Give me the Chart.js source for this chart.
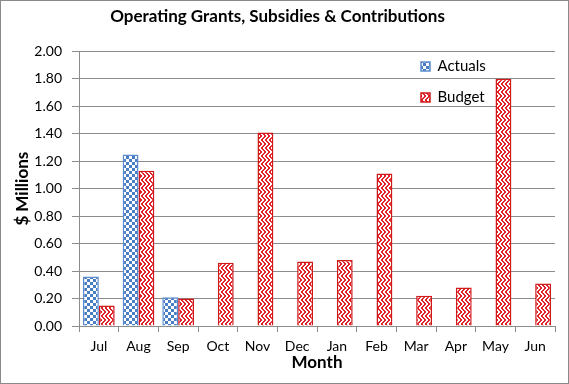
<!DOCTYPE html>
<html>
<head>
<meta charset="utf-8">
<script src="https://cdn.jsdelivr.net/npm/chart.js@4/dist/chart.umd.min.js"></script>
<style>
  body { margin: 0; background: #fff; }
  #wrap { position: relative; width: 569px; height: 384px; }
  #frame { position: absolute; left: 0; top: 0; width: 569px; height: 384px;
           box-sizing: border-box; border: 1px solid #8a8a8a; pointer-events: none; }
</style>
</head>
<body>
<div id="wrap">
  <canvas id="grantsChart" width="569" height="384"></canvas>
  <div id="frame"></div>
</div>
<script>
// Operating grants chart - monthly actuals vs budget ($ millions)

const months  = ['Jul','Aug','Sep','Oct','Nov','Dec','Jan','Feb','Mar','Apr','May','Jun'];
const actuals = [0.36, 1.25, 0.21, null, null, null, null, null, null, null, null, null];
const budget  = [0.15, 1.13, 0.20, 0.46, 1.41, 0.47, 0.48, 1.11, 0.22, 0.28, 1.80, 0.31];
const yTicks  = ['0.00','0.20','0.40','0.60','0.80','1.00','1.20','1.40','1.60','1.80','2.00'];

const FONT = 'Lato, "Open Sans", sans-serif';
const GRID = '#8c8c8c';

// small fill patterns like the Excel hatch fills
function checkerPattern(color) {
  const c = document.createElement('canvas');
  c.width = 6; c.height = 6;
  const g = c.getContext('2d');
  g.fillStyle = '#fff';
  g.fillRect(0, 0, 6, 6);
  g.fillStyle = color;
  g.fillRect(0, 0, 3, 3);
  g.fillRect(3, 3, 3, 3);
  return g.createPattern(c, 'repeat');
}

function zigzagPattern(color) {
  const c = document.createElement('canvas');
  c.width = 8; c.height = 8;
  const g = c.getContext('2d');
  g.fillStyle = '#fff';
  g.fillRect(0, 0, 8, 8);
  g.fillStyle = color;
  for (let y = 0; y < 8; y++) {
    const s = y < 4 ? y : 7 - y;
    for (let x = 0; x < 8; x++) {
      if ((x + s) % 4 < 2) g.fillRect(x, y, 1, 1);
    }
  }
  return g.createPattern(c, 'repeat');
}

// move the in-plot legend over to the right-hand side
const legendSpot = {
  id: 'legendSpot',
  afterLayout(chart) {
    const lg = chart.legend;
    if (!lg) return;
    lg.left = 405;
    lg.top = 43;
  }
};

const ctx = document.getElementById('grantsChart').getContext('2d');
new Chart(ctx, {
  type: 'bar',
  data: {
    labels: months,
    datasets: [
      {
        label: 'Actuals',
        data: actuals,
        backgroundColor: checkerPattern('#4a7ec4'),
        borderColor: '#5b8cd2',
        borderWidth: 1.5
      },
      {
        label: 'Budget',
        data: budget,
        backgroundColor: zigzagPattern('#e0242b'),
        borderColor: '#d01a1a',
        borderWidth: 1.5
      }
    ]
  },
  options: {
    responsive: false,
    animation: false,
    layout: { padding: { left: 0, right: 14, top: 0, bottom: 0 } },
    datasets: { bar: { categoryPercentage: 0.8, barPercentage: 1.0 } },
    plugins: {
      title: {
        display: true,
        text: 'Operating Grants, Subsidies & Contributions',
        color: '#000',
        font: { family: FONT, size: 17, weight: 'bold' },
        padding: { top: 6, bottom: 25 }
      },
      legend: {
        position: 'chartArea',
        align: 'start',
        labels: {
          color: '#000',
          font: { family: FONT, size: 15 },
          boxWidth: 9,
          boxHeight: 9,
          padding: 16
        }
      },
      tooltip: { enabled: false }
    },
    scales: {
      x: {
        grid: { drawOnChartArea: false, color: GRID, tickLength: 6, offset: true },
        border: { color: GRID },
        ticks: { color: '#000', font: { family: FONT, size: 14 }, padding: 6, maxRotation: 0 },
        title: {
          display: true, text: 'Month', color: '#000',
          font: { family: FONT, size: 17, weight: 'bold' },
          padding: { top: 0, bottom: 11 }
        },
        afterFit(scale) { scale.height = 58; }
      },
      y: {
        min: 0, max: 2,
        grid: { color: GRID, tickLength: 7 },
        border: { color: GRID },
        ticks: {
          stepSize: 0.2,
          color: '#000',
          font: { family: FONT, size: 14 },
          padding: 10,
          callback: (v, i) => yTicks[i]
        },
        title: {
          display: true, text: '$ Millions', color: '#000',
          font: { family: FONT, size: 17, weight: 'bold' },
          padding: { top: 12, bottom: 0 }
        },
        afterFit(scale) { scale.width = 79; }
      }
    }
  },
  plugins: [legendSpot]
});
</script>
</body>
</html>
